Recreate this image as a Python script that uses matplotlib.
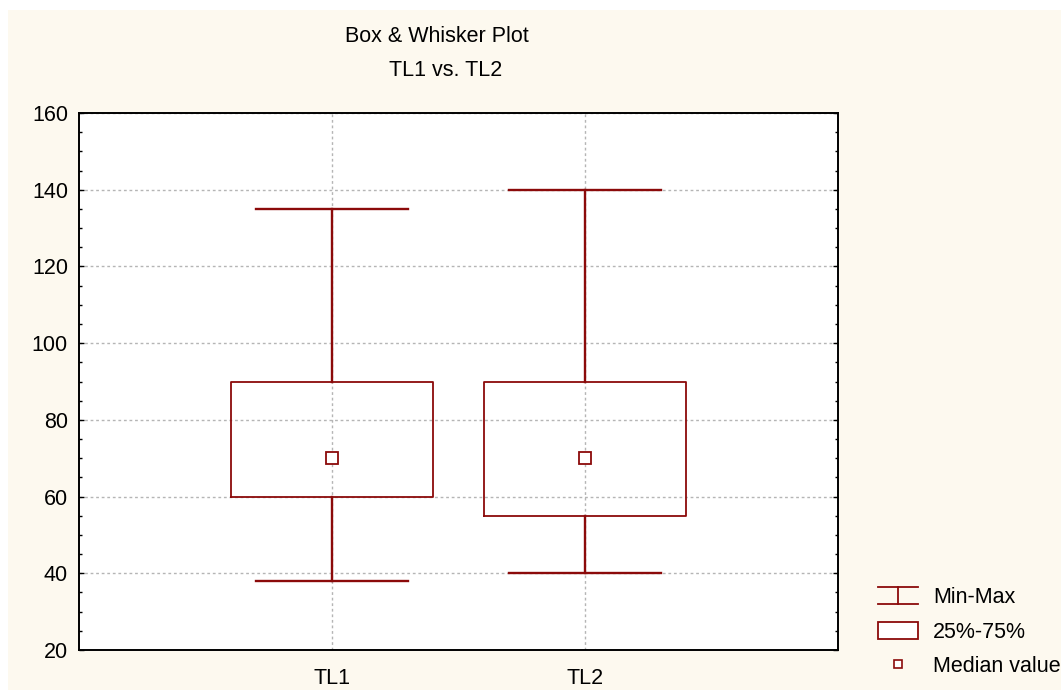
import matplotlib
matplotlib.use('Agg')
import matplotlib.pyplot as plt
from matplotlib.lines import Line2D
from matplotlib.patches import Patch, Rectangle
from matplotlib.legend_handler import HandlerBase
from matplotlib.ticker import MultipleLocator

plt.rcParams['font.family'] = ['Liberation Sans', 'DejaVu Sans']

# Дані
categories = ['TL1', 'TL2']
mins = [38, 40]
q1 = [60, 55]
medians = [70, 70]
q3 = [90, 90]
maxs = [135, 140]

dark_red = '#8b0a0a'
cream = '#fdf9ef'
fs = 15.5


class MinMaxHandler(HandlerBase):
    # значок "Min-Max": дві горизонтальні риски та вертикальна лінія
    def create_artists(self, legend, orig_handle, xdescent, ydescent,
                       width, height, fontsize, trans):
        x0 = -xdescent
        x1 = x0 + width
        y0 = -ydescent
        y1 = -ydescent + height
        xm = (x0 + x1) / 2
        kw = dict(color=dark_red, lw=1.3, transform=trans)
        return [Line2D([x0, x1], [y1, y1], **kw),
                Line2D([x0, x1], [y0, y0], **kw),
                Line2D([xm, xm], [y0, y1], **kw)]


fig = plt.figure(figsize=(10.61, 7.0), dpi=100, facecolor='white')
fig.patches.append(Rectangle((8 / 1061, 10 / 700), 1 - 8 / 1061, 680 / 700,
                             transform=fig.transFigure, facecolor=cream,
                             edgecolor='none', zorder=-10))

ax = fig.add_axes([79 / 1061, 50 / 700, 759 / 1061, 537 / 700])
ax.set_facecolor('white')

stats = []
for i, name in enumerate(categories):
    stats.append(dict(label=name, whislo=mins[i], q1=q1[i], med=medians[i],
                      q3=q3[i], whishi=maxs[i], mean=medians[i], fliers=[]))

ax.bxp(stats, positions=[1, 2], widths=0.8, capwidths=0.6,
       showmeans=True, showfliers=False,
       boxprops=dict(color=dark_red, lw=1.3),
       whiskerprops=dict(color=dark_red, lw=1.7),
       capprops=dict(color=dark_red, lw=1.7),
       medianprops=dict(lw=0),
       meanprops=dict(marker='s', markersize=8, markerfacecolor='white',
                      markeredgecolor=dark_red, markeredgewidth=1.3),
       zorder=3)

ax.set_xlim(0, 3)
ax.set_ylim(20, 160)
ax.set_xticks([1, 2])
ax.set_xticklabels(categories)
ax.yaxis.set_major_locator(MultipleLocator(20))
ax.yaxis.set_minor_locator(MultipleLocator(5))

ax.grid(True, which='major', color='#b5b5b5', linestyle=(0, (2, 2)), lw=1)
ax.set_axisbelow(True)

ax.tick_params(axis='y', which='both', direction='in', left=True, right=True,
               labelsize=fs, pad=8)
ax.tick_params(axis='y', which='major', length=3.5, width=1)
ax.tick_params(axis='y', which='minor', length=2.5, width=1)
ax.tick_params(axis='x', length=0, labelsize=fs, pad=13)
for s in ax.spines.values():
    s.set_linewidth(1.4)
    s.set_color('black')

fig.text(437 / 1061, 1 - 37 / 700, 'Box & Whisker Plot', ha='center',
         va='center', fontsize=fs)
fig.text(446 / 1061, 1 - 71 / 700, 'TL1 vs. TL2', ha='center',
         va='center', fontsize=fs)

handles = [Line2D([], []),
           Patch(facecolor='white', edgecolor=dark_red, lw=1.3),
           Line2D([], [], marker='s', linestyle='none', markersize=6,
                  markerfacecolor='white', markeredgecolor=dark_red,
                  markeredgewidth=1.2)]
labels = ['Min-Max', '25%-75%', 'Median value']
fig.legend(handles, labels, loc='lower left',
           bbox_to_anchor=(878 / 1061, 1 - 677 / 700),
           frameon=False, fontsize=fs, handlelength=1.85, handleheight=0.85,
           handletextpad=0.7, labelspacing=0.62, borderpad=0,
           borderaxespad=0,
           handler_map={handles[0]: MinMaxHandler()})

fig.savefig('out.png', dpi=100, facecolor=fig.get_facecolor())
